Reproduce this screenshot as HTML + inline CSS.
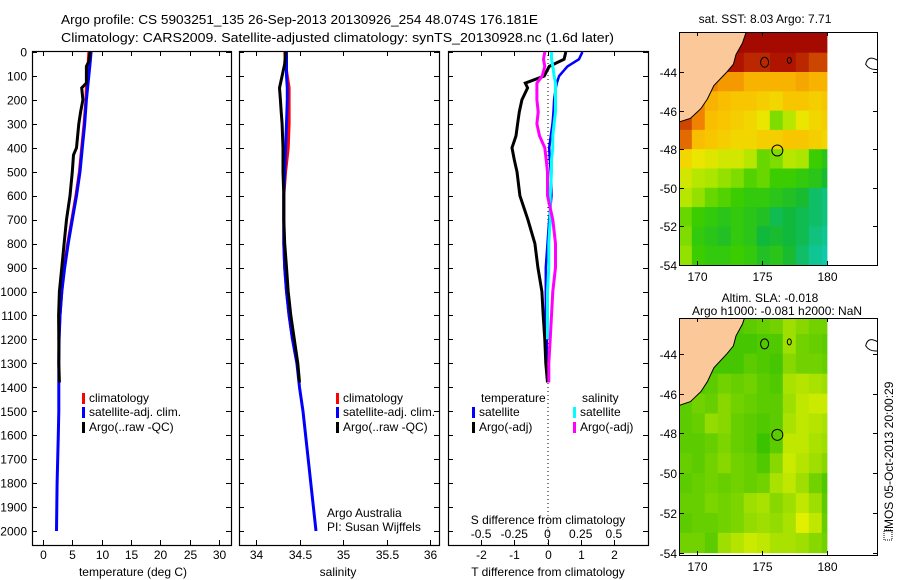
<!DOCTYPE html>
<html><head><meta charset="utf-8"><style>
html,body{margin:0;padding:0;background:#fff;}
svg{display:block;font-family:"Liberation Sans",sans-serif;}
</style></head><body>
<svg id="c" width="900" height="580" viewBox="0 0 900 580" xmlns="http://www.w3.org/2000/svg">
<defs>
<clipPath id="m1clip"><rect x="679" y="32" width="198" height="233"/></clipPath>
<clipPath id="m2clip"><rect x="679" y="318" width="198" height="237"/></clipPath>
</defs>
<text x="61" y="24" font-size="13" textLength="477" lengthAdjust="spacingAndGlyphs">Argo profile: CS 5903251_135 26-Sep-2013 20130926_254 48.074S 176.181E</text>
<text x="61" y="42" font-size="13" textLength="553" lengthAdjust="spacingAndGlyphs">Climatology: CARS2009. Satellite-adjusted climatology: synTS_20130928.nc (1.6d later)</text>
<g id="g"></g>
</svg>
<script>
// ---- profile data ----
const depthLevels=[0,50,100,150,200,300,400,500,600,700,800,900,1000,1100,1200,1300,1400,1500,1600,1700,1800,1900,2000];
const satT=[8.2,8.0,7.8,7.6,7.4,7.1,6.7,6.3,5.7,5.0,4.3,3.7,3.2,2.9,2.75,2.7,2.7,2.7,2.6,2.5,2.4,2.35,2.3];
const climT=[7.8,7.7,7.5,7.4,7.3,7.0,6.6,6.2,5.6,4.9,4.2,3.6,3.2,2.9,2.7];
const argoTDepth=[0,40,60,130,150,200,250,300,400,430,500,600,700,800,900,1000,1100,1200,1300,1380];
const argoT=[8.0,7.8,7.4,7.4,6.6,6.8,6.4,6.1,5.7,5.2,5.0,4.6,4.0,3.6,3.2,2.8,2.65,2.7,2.7,2.8];
const satS=[34.35,34.35,34.35,34.36,34.36,34.35,34.34,34.33,34.32,34.32,34.32,34.33,34.35,34.38,34.42,34.47,34.5,34.54,34.57,34.6,34.63,34.66,34.69];
const climS=[34.33,34.34,34.36,34.38,34.38,34.38,34.37,34.34,34.32,34.32,34.32,34.33,34.35,34.38,34.42];
const argoSDepth=[0,50,100,150,200,250,300,400,500,600,700,800,900,1000,1100,1200,1300,1380];
const argoS=[34.34,34.33,34.3,34.27,34.28,34.29,34.3,34.31,34.31,34.32,34.32,34.33,34.35,34.37,34.4,34.44,34.48,34.5];
const diffDepth=[0,30,60,100,130,150,200,250,300,350,400,450,500,600,700,800,900,1000,1100,1200,1300,1380];
const argoTdiff=[0.55,0.5,0.05,-0.1,-0.67,-0.6,-0.77,-0.85,-0.9,-0.95,-1.07,-1.0,-0.92,-0.83,-0.59,-0.38,-0.29,-0.17,-0.13,-0.08,-0.05,0];
const satTdiff=[1.05,0.95,0.6,0.35,0.28,0.25,0.2,0.18,0.15,0.1,0.05,0.07,0.1,0.12,0.05,0.0,-0.05,-0.05,-0.05,-0.02,-0.02,null];
const argoSdiff=[-0.02,-0.03,-0.02,-0.04,-0.08,-0.08,-0.08,-0.07,-0.08,-0.06,-0.02,-0.01,0,0,0.04,0.06,0.06,0.04,0.03,0.02,0.01,0.01];
const satSdiff=[0.03,0.03,0.04,0.05,0.06,0.06,0.06,0.06,0.05,0.04,0.04,0.03,0.03,0.02,0.02,0.01,0.01,0,0,0,null,null];
const depthTicks=[0,100,200,300,400,500,600,700,800,900,1000,1100,1200,1300,1400,1500,1600,1700,1800,1900,2000];
const tempTicks=[0,5,10,15,20,25,30];
const salTicks=[34,34.5,35,35.5,36];
const tdiffTicks=[-2,-1,0,1,2];
const sdiffTicks=[-0.5,-0.25,0,0.25,0.5];
// ---- map data (1 degree cells, rows from -42 southward, cols from 168.6 eastward) ----
const sstGrid=[
[10.5,10.5,10.5,10.5,10.5,10.5,10.5,10.5,10.5,10.5,10.5,10.5],
[10,10,10,10,10,9.8,9.8,10,10,9.8,9.5,9.5],
[9.5,9.5,9.0,8.8,8.8,8.6,8.6,8.6,8.6,8.7,8.6,8.6],
[9.5,9.0,8.6,8.5,8.4,8.4,8.3,8.2,8.4,8.4,8.3,8.4],
[9.5,9.0,8.5,8.4,8.3,8.2,8.0,7.3,7.6,8.0,8.2,8.3],
[9.2,8.5,8.4,8.3,8.2,8.2,8.3,8.3,8.4,8.4,8.3,8.2],
[8.2,8.0,7.9,7.8,7.8,7.6,7.2,7.3,7.6,7.5,7.0,6.8],
[7.8,7.6,7.5,7.4,7.3,7.1,7.2,7.0,7.0,6.9,6.8,6.6],
[7.6,7.4,7.2,7.1,7.0,6.9,6.9,6.8,6.7,6.6,6.3,6.2],
[7.2,7.0,6.9,6.8,6.9,6.8,6.7,6.4,6.5,6.4,6.3,6.2],
[7.3,6.9,6.8,6.7,6.9,6.8,6.5,6.6,6.5,6.4,6.2,6.1],
[7.4,7.0,6.9,6.9,7.0,6.9,6.7,6.8,6.6,6.3,6.1,6.0]];
const slaGrid=[
[-.05,-.05,-.05,-.05,-.05,-.04,-.03,-.02,.02,.0,-.02,-.02],
[-.06,-.06,-.06,-.06,-.06,-.06,-.05,-.05,.02,-.02,-.03,-.04],
[-.05,-.05,-.06,-.06,-.06,-.04,-.05,-.06,.0,-.02,-.02,-.03],
[-.05,-.05,-.04,-.02,-.03,-.02,-.04,-.05,.03,.04,.03,.02],
[-.04,-.02,-.03,.0,-.02,-.03,-.04,-.04,.02,.05,.06,.06],
[-.04,-.03,.01,.0,-.03,-.04,-.05,-.04,.03,.05,.04,.03],
[-.04,-.04,-.03,-.01,-.03,-.04,-.07,-.04,.05,.05,.03,.02],
[-.03,-.04,-.02,.0,-.02,-.03,-.05,.0,.06,.04,.02,.0],
[-.04,-.03,-.02,-.03,-.02,-.03,-.02,.03,.05,.02,-.02,-.05],
[-.03,-.03,-.01,-.02,-.01,.02,.03,.0,.02,.05,.02,-.04],
[-.04,-.03,-.03,-.02,-.01,.01,.02,.01,.03,.08,.05,-.03],
[-.02,-.02,-.04,.02,.04,.06,.05,.03,.03,.02,.0,-.02]];
const lonTicks=[170,175,180];
const latTicks=[-44,-46,-48,-50,-52,-54];
const argoLon=176.18, argoLat=-48.07;
const coastLon=[168.6,169.5,170.3,170.8,171.3,172.3,172.8,173.0,173.5,173.8];
const coastLat=[-46.6,-46.4,-45.9,-45.4,-44.7,-44.0,-43.6,-43.1,-42.5,-41.9];

const NS="http://www.w3.org/2000/svg";
const G=document.getElementById('g');
function mk(tag,attrs,parent){const e=document.createElementNS(NS,tag);for(const k in attrs)e.setAttribute(k,attrs[k]);(parent||G).appendChild(e);return e;}
function txt(x,y,s,anchor,size,parent){const t=mk('text',{x:x,y:y,'font-size':size||12,'text-anchor':anchor||'start'},parent);t.textContent=s;return t;}

// axis functions
const yD=d=>52+d*0.2395;
const xT=v=>43+v*5.87;
const xS=v=>256+(v-34)*87;
const xDiff=v=>547.5+v*33.2;
const xSd=v=>xDiff(v*4);
const Y0=51,Y1=545;

function box(x0,x1,name){
  const r=mk('rect',{x:x0+0.5,y:Y0+0.5,width:x1-x0,height:Y1-Y0,fill:'none',stroke:'#000','stroke-width':1.2});
  
  
  depthTicks.forEach(d=>{
    const y=Math.round(yD(d))+0.5;
    mk('line',{x1:x0,x2:x0+5,y1:y,y2:y,stroke:'#000'});
    mk('line',{x1:x1-5,x2:x1,y1:y,y2:y,stroke:'#000'});
  });
}
function xticks(vals,fx,labels,name){
  vals.forEach((v,i)=>{
    const x=Math.round(fx(v))+0.5;
    mk('line',{x1:x,x2:x,y1:Y1-5,y2:Y1,stroke:'#000'});
    mk('line',{x1:x,x2:x,y1:Y0,y2:Y0+5,stroke:'#000'});
    const t=txt(x,559,labels[i],'middle',12);
    
    
  });
}
function line(depths,vals,fx,color,name,w){
  const pts=[];
  vals.forEach((v,i)=>{if(v!==null&&v!==undefined&&i<depths.length)pts.push(fx(v).toFixed(1)+','+yD(depths[i]).toFixed(1));});
  const p=mk('polyline',{points:pts.join(' '),fill:'none',stroke:color,'stroke-width':w||3,'stroke-linejoin':'miter'});
  
  
}
function legend(x,y,color,label,name){
  mk('rect',{x:x,y:y-9,width:3,height:11,fill:color});
  const t=txt(x+7,y,label,'start',12);
  
  
}

depthTicks.forEach(d=>{
  const t=txt(27,yD(d)+4.5,String(d),'end',12);
  
  
});

// panel 1
box(32,231,'temperature-panel');
xticks(tempTicks,xT,tempTicks.map(String),'temperature');
line(depthLevels.slice(0,climT.length),climT,xT,'#ff0000','climatology-temperature-line');
line(depthLevels,satT,xT,'#0000ff','satellite-temperature-line');
line(argoTDepth,argoT,xT,'#000000','argo-temperature-line');
legend(82,402,'#ff0000','climatology','legend-climatology');
legend(82,416,'#0000ff','satellite-adj. clim.','legend-satellite');
legend(82,431,'#000000','Argo(..raw -QC)','legend-argo');
let t=txt(133,576,'temperature (deg C)','middle',12);



// panel 2
box(239,439,'salinity-panel');
xticks(salTicks,xS,['34','34.5','35','35.5','36'],'salinity');
line(depthLevels.slice(0,climS.length),climS,xS,'#ff0000','climatology-salinity-line');
line(depthLevels,satS,xS,'#0000ff','satellite-salinity-line');
line(argoSDepth,argoS,xS,'#000000','argo-salinity-line');
legend(336,402,'#ff0000','climatology','legend-climatology-2');
legend(336,416,'#0000ff','satellite-adj. clim.','legend-satellite-2');
legend(336,431,'#000000','Argo(..raw -QC)','legend-argo-2');
t=txt(338,576,'salinity','middle',12);


t=txt(327,517,'Argo Australia','start',12);


t=txt(327,531,'PI: Susan Wijffels','start',12);



// panel 3
box(448,648,'difference-panel');
mk('line',{x1:548,x2:548,y1:Y0,y2:Y1,stroke:'#000','stroke-dasharray':'1,3'});
xticks(tdiffTicks,xDiff,['-2','-1','0','1','2'],'t-diff');
line(diffDepth,satTdiff,xDiff,'#0000ff','satellite-tdiff-line',2.5);
line(diffDepth,argoTdiff,xDiff,'#000000','argo-tdiff-line',3);
line(diffDepth,satSdiff,xSd,'#00ffff','satellite-sdiff-line',3);
line(diffDepth,argoSdiff,xSd,'#ff00ff','argo-sdiff-line',3);
t=txt(481,402,'temperature','start',12);


t=txt(582,402,'salinity','start',12);


legend(472,416,'#0000ff','satellite','legend-t-satellite');
legend(472,431,'#000000','Argo(-adj)','legend-t-argo');
legend(573,416,'#00ffff','satellite','legend-s-satellite');
legend(573,431,'#ff00ff','Argo(-adj)','legend-s-argo');
t=txt(548,524,'S difference from climatology','middle',12);


sdiffTicks.forEach((v,i)=>{
  const l=txt(xSd(v),538,['-0.5','-0.25','0','0.25','0.5'][i],'middle',12);
  
  
});
t=txt(548,576,'T difference from climatology','middle',12);



// ---- maps ----
function sstColor(v){
  const stops=[[5.5,[32,200,208]],[6.0,[16,200,170]],[6.5,[16,184,60]],[7.0,[60,205,0]],[7.5,[170,230,0]],[8.0,[235,230,0]],[8.5,[250,190,0]],[9.0,[240,130,0]],[9.5,[205,70,0]],[10.0,[175,20,0]],[10.5,[165,10,0]]];
  if(v<=stops[0][0])return 'rgb('+stops[0][1]+')';
  for(let i=1;i<stops.length;i++){if(v<=stops[i][0]){const a=stops[i-1],b=stops[i],f=(v-a[0])/(b[0]-a[0]);return 'rgb('+a[1].map((c,k)=>Math.round(c+(b[1][k]-c)*f)).join(',')+')';}}
  return 'rgb('+stops[stops.length-1][1]+')';
}
function slaColor(v){
  const a=[48,192,0],b=[224,240,0];let f=(v+0.08)/0.16;f=Math.max(0,Math.min(1,f));
  return 'rgb('+a.map((c,k)=>Math.round(c+(b[k]-c)*f)).join(',')+')';
}
function drawMap(top,bottom,latTop,pxLat,grid,colorFn,clip,name,labelY){
  const lonX=l=>697+(l-170)*13;
  const latY=l=>top+(latTop-l)*pxLat;
  const g=mk('g',{'clip-path':'url(#'+clip+')'});
  
  
  grid.forEach((row,i)=>row.forEach((v,j)=>{
    const x0=lonX(168.6+j),x1=lonX(169.6+j),y1=latY(-43-i);
    const yy=i===0?top:latY(-42-i);
    mk('rect',{x:x0.toFixed(1),y:yy.toFixed(1),width:(Math.min(x1,827)-x0+0.4).toFixed(1),height:(y1-yy+0.4).toFixed(1),fill:colorFn(v)},g);
  }));
  const pts=coastLon.map((l,i)=>lonX(l).toFixed(1)+','+latY(coastLat[i]).toFixed(1));
  pts.push(lonX(168.6)+','+(top-2));
  const land=mk('polygon',{points:pts.join(' '),fill:'#fbc89a',stroke:'#000','stroke-width':1},g);
  
  
  mk('ellipse',{cx:lonX(175.2),cy:latY(-43.5),rx:4,ry:5,fill:'none',stroke:'#000'},g);
  mk('ellipse',{cx:lonX(177.1),cy:latY(-43.4),rx:2,ry:3,fill:'none',stroke:'#000'},g);
  mk('path',{d:'M'+(lonX(183.9))+' '+latY(-43.4)+' q-10 -6 -12 4 q4 6 12 5',fill:'none',stroke:'#000'},g);
  const c=mk('circle',{cx:lonX(argoLon),cy:latY(argoLat),r:5.5,fill:'none',stroke:'#000','stroke-width':1});
  
  
  const r=mk('rect',{x:679.5,y:top+0.5,width:198,height:bottom-top,fill:'none',stroke:'#000'});
  
  
  latTicks.forEach(l=>{
    const y=Math.round(latY(l))+0.5;
    mk('line',{x1:680,x2:684,y1:y,y2:y,stroke:'#000'});
    mk('line',{x1:873,x2:877,y1:y,y2:y,stroke:'#000'});
    const tl=txt(677,y+4.5,String(l),'end',12);
    
    
  });
  lonTicks.forEach(l=>{
    const x=Math.round(lonX(l))+0.5;
    mk('line',{x1:x,x2:x,y1:bottom-4,y2:bottom,stroke:'#000'});
    mk('line',{x1:x,x2:x,y1:top,y2:top+4,stroke:'#000'});
    const tl=txt(x,labelY,String(l),'middle',12);
    
    
  });
}
drawMap(32,265,-41.93,19.3,sstGrid,sstColor,'m1clip','sst-map',281);
drawMap(318,555,-42.2,19.9,slaGrid,slaColor,'m2clip','sla-map',571);
t=txt(765,23,'sat. SST: 8.03 Argo: 7.71','middle',12);


t=txt(770,302,'Altim. SLA: -0.018','middle',12);


t=txt(777,315,'Argo h1000: -0.081 h2000: NaN','middle',12);


t=txt(0,0,'IMOS 05-Oct-2013 20:00:29','middle',12);
t.setAttribute('transform','translate(893,457) rotate(-90)');


mk('rect',{x:884,y:530,width:8,height:10,fill:'none',stroke:'#000','stroke-dasharray':'1,1'});
</script>
</body></html>
